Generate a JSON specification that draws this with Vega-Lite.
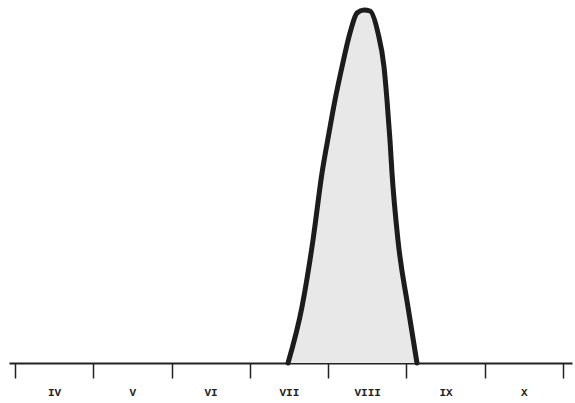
{
  "$schema": "https://vega.github.io/schema/vega-lite/v6.json",
  "width": 563,
  "height": 363,
  "autosize": {"type": "none"},
  "padding": {"left": 9, "right": 3, "top": 0, "bottom": 40},
  "background": "white",
  "config": {"view": {"stroke": null}},
  "data": {
    "values": [
      {"period": 6.987, "level": 0},
      {"period": 7.165, "level": 56},
      {"period": 7.306, "level": 123},
      {"period": 7.421, "level": 190},
      {"period": 7.510, "level": 230},
      {"period": 7.587, "level": 263},
      {"period": 7.676, "level": 296},
      {"period": 7.778, "level": 330},
      {"period": 7.868, "level": 350},
      {"period": 7.957, "level": 353},
      {"period": 8.034, "level": 352},
      {"period": 8.136, "level": 330},
      {"period": 8.213, "level": 296},
      {"period": 8.251, "level": 263},
      {"period": 8.289, "level": 223},
      {"period": 8.315, "level": 190},
      {"period": 8.391, "level": 123},
      {"period": 8.519, "level": 56},
      {"period": 8.634, "level": 0}
    ]
  },
  "encoding": {
    "x": {
      "field": "period",
      "type": "quantitative",
      "scale": {"domain": [3.423, 10.614], "nice": false, "zero": false},
      "axis": {
        "title": null,
        "grid": false,
        "values": [3.5, 4.5, 5.5, 6.5, 7.5, 8.5, 9.5, 10.5],
        "labelExpr": "['IV','V','VI','VII','VIII','IX','X',''][round(datum.value - 3.5)]",
        "labelOffset": 39,
        "labelFont": "Liberation Mono",
        "labelFontWeight": "bold",
        "labelFontSize": 11,
        "labelColor": "#222222",
        "labelPadding": 8,
        "labelFlush": false,
        "labelOverlap": false,
        "domainColor": "#222222",
        "domainWidth": 2,
        "tickColor": "#222222",
        "tickWidth": 1.5,
        "tickSize": 15
      }
    },
    "y": {
      "field": "level",
      "type": "quantitative",
      "scale": {"domain": [0, 363], "nice": false},
      "axis": null
    }
  },
  "layer": [
    {"mark": {"type": "area", "interpolate": "monotone", "color": "#e8e8e8"}},
    {"mark": {"type": "line", "interpolate": "monotone", "color": "#1c1c1c", "strokeWidth": 5, "strokeCap": "round", "strokeJoin": "round"}}
  ]
}
